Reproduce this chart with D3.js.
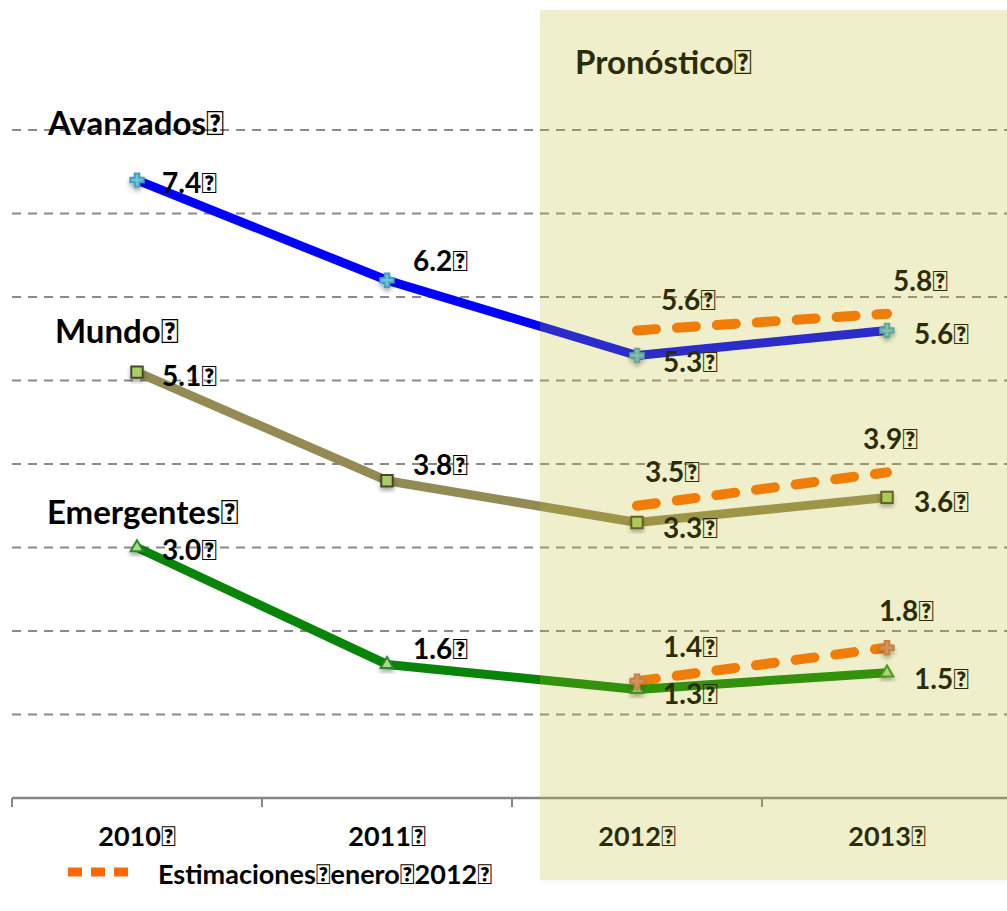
<!DOCTYPE html>
<html>
<head>
<meta charset="utf-8">
<script src="https://cdn.jsdelivr.net/npm/d3@7"></script>
<style>
   body { margin: 0; background: #ffffff; }
   text { font-family: Lato, "Open Sans", sans-serif; font-weight: bold; fill: #000; }
</style>
</head>
<body>
<div id="svgcontainer"></div>
<script>
         var width = 1007;
         var height = 911;

         // data
         var years = ["2010", "2011", "2012", "2013"];
         var avanzados = [7.4, 6.2, 5.3, 5.6];
         var mundo = [5.1, 3.8, 3.3, 3.6];
         var emergentes = [3.0, 1.6, 1.3, 1.5];
         var estYears = ["2012", "2013"];
         var estAvanzados = [5.6, 5.8];
         var estMundo = [3.5, 3.9];
         var estEmergentes = [1.4, 1.8];
         var gridValues = [1, 2, 3, 4, 5, 6, 7, 8];
         var box = "\uF020";

         var svg = d3.select("#svgcontainer")
            .append("svg")
            .attr("width", width)
            .attr("height", height);

         var defs = svg.append("defs");
         defs.append("filter")
            .attr("id", "shadow")
            .attr("x", "-50%").attr("y", "-50%")
            .attr("width", "200%").attr("height", "200%")
            .append("feDropShadow")
            .attr("dx", 0).attr("dy", 3)
            .attr("stdDeviation", 2)
            .attr("flood-color", "#000")
            .attr("flood-opacity", 0.35);
         defs.append("filter")
            .attr("id", "boxshadow")
            .attr("x", "-10%").attr("y", "-10%")
            .attr("width", "120%").attr("height", "120%")
            .append("feDropShadow")
            .attr("dx", 0).attr("dy", 3)
            .attr("stdDeviation", 3)
            .attr("flood-color", "#000")
            .attr("flood-opacity", 0.12);

         var x = d3.scaleBand()
            .domain(years)
            .range([12, 1012]);

         var y = d3.scaleLinear()
            .domain([0, 8])
            .range([798, 130]);

         function cx(yr) { return x(yr) + x.bandwidth() / 2; }

         // grid lines
         svg.append("g")
            .selectAll("line")
            .data(gridValues)
            .enter()
            .append("line")
            .attr("x1", 12)
            .attr("x2", width)
            .attr("y1", d => y(d))
            .attr("y2", d => y(d))
            .attr("stroke", "#8a8a8a")
            .attr("stroke-width", 2)
            .attr("stroke-dasharray", "9 7");

         // x axis
         var xAxis = svg.append("g")
            .attr("transform", "translate(0," + y(0) + ")")
            .call(d3.axisBottom(x).tickSize(0).tickFormat(d => d + box).tickPadding(29));
         xAxis.select(".domain")
            .attr("d", "M12,0H" + width)
            .attr("stroke", "#868686")
            .attr("stroke-width", 2.5);
         xAxis.selectAll("text")
            .style("font-size", "27px")
            .style("font-weight", "bold")
            .attr("font-family", "Lato");
         xAxis.append("g")
            .selectAll("line")
            .data(years)
            .enter()
            .append("line")
            .attr("x1", d => x(d))
            .attr("x2", d => x(d))
            .attr("y1", 0)
            .attr("y2", 9)
            .attr("stroke", "#868686")
            .attr("stroke-width", 2);

         var line = d3.line()
            .x(d => cx(d[0]))
            .y(d => y(d[1]));

         function drawSeries(vals, color) {
            svg.append("path")
               .datum(d3.zip(years, vals))
               .attr("d", line)
               .attr("fill", "none")
               .attr("stroke", color)
               .attr("stroke-width", 9)
               .attr("stroke-linejoin", "round");
         }

         function drawEstimate(vals) {
            svg.append("path")
               .datum(d3.zip(estYears, vals))
               .attr("d", line)
               .attr("fill", "none")
               .attr("stroke", "#ff6a00")
               .attr("stroke-width", 10)
               .attr("stroke-linecap", "round")
               .attr("stroke-dasharray", "19 21");
         }

         drawEstimate(estAvanzados);
         drawEstimate(estMundo);
         drawEstimate(estEmergentes);
         drawSeries(avanzados, "#0000ff");
         drawSeries(mundo, "#948a54");
         drawSeries(emergentes, "#088508");

         function drawMarkers(yrs, vals, type, size, fill, stroke) {
            svg.append("g")
               .selectAll("path")
               .data(d3.zip(yrs, vals))
               .enter()
               .append("path")
               .attr("transform", d => "translate(" + cx(d[0]) + "," + y(d[1]) + ")")
               .attr("d", d3.symbol().type(type).size(size))
               .attr("fill", fill)
               .attr("stroke", stroke)
               .attr("stroke-width", 2)
               .attr("filter", "url(#shadow)");
         }

         drawMarkers(years, avanzados, d3.symbolCross, 100, "#6cc3dc", "#4a9fbe");
         drawMarkers(years, mundo, d3.symbolSquare, 130, "#a6cf6a", "#4c4626");
         drawMarkers(years, emergentes, d3.symbolTriangle, 70, "#a8dc8c", "#2a8a2a");
         drawMarkers(estYears, estEmergentes, d3.symbolCross, 100, "#e0866c", "#c8704e");

         // value labels: offsets are label placement only
         function drawLabels(yrs, vals, offs) {
            svg.append("g")
               .selectAll("text")
               .data(d3.zip(yrs, vals, offs))
               .enter()
               .append("text")
               .attr("x", d => cx(d[0]) + d[2][0])
               .attr("y", d => y(d[1]) + d[2][1])
               .attr("dominant-baseline", "central")
               .style("font-size", "28px")
               .text(d => d[1].toFixed(1) + box);
         }

         drawLabels(years, avanzados, [[25, 2], [26, -20], [26, 6], [27, 3]]);
         drawLabels(years, mundo, [[25, 3], [26, -17], [26, 5], [27, 4]]);
         drawLabels(years, emergentes, [[25, 1], [26, -16], [26, 4], [27, 5]]);
         drawLabels(estYears, estAvanzados, [[24, -31], [6, -34]]);
         drawLabels(estYears, estMundo, [[8, -35], [-24, -34]]);
         drawLabels(estYears, estEmergentes, [[26, -35], [-8, -38]]);

         // series names
         var names = [["Avanzados" + box, 48, 122], ["Mundo" + box, 55, 330], ["Emergentes" + box, 47, 511], ["Pron\u00f3stico" + box, 575, 61]];
         svg.append("g")
            .selectAll("text")
            .data(names)
            .enter()
            .append("text")
            .attr("x", d => d[1])
            .attr("y", d => d[2])
            .attr("dominant-baseline", "central")
            .style("font-size", "33px")
            .text(d => d[0]);

         // legend
         svg.append("line")
            .attr("x1", 68).attr("x2", 130)
            .attr("y1", 872).attr("y2", 872)
            .attr("stroke", "#ff6a00")
            .attr("stroke-width", 9)
            .attr("stroke-dasharray", "14 9");
         svg.append("text")
            .attr("x", 158)
            .attr("y", 873)
            .attr("dominant-baseline", "central")
            .style("font-size", "27px")
            .text("Estimaciones" + box + "enero" + box + "2012" + box);

         // forecast shade on top
         svg.append("rect")
            .attr("x", 540)
            .attr("y", 10)
            .attr("width", width - 540 + 10)
            .attr("height", 870)
            .attr("fill", "rgb(190,190,35)")
            .attr("opacity", 0.23)
            .attr("filter", "url(#boxshadow)");
</script>
</body>
</html>
